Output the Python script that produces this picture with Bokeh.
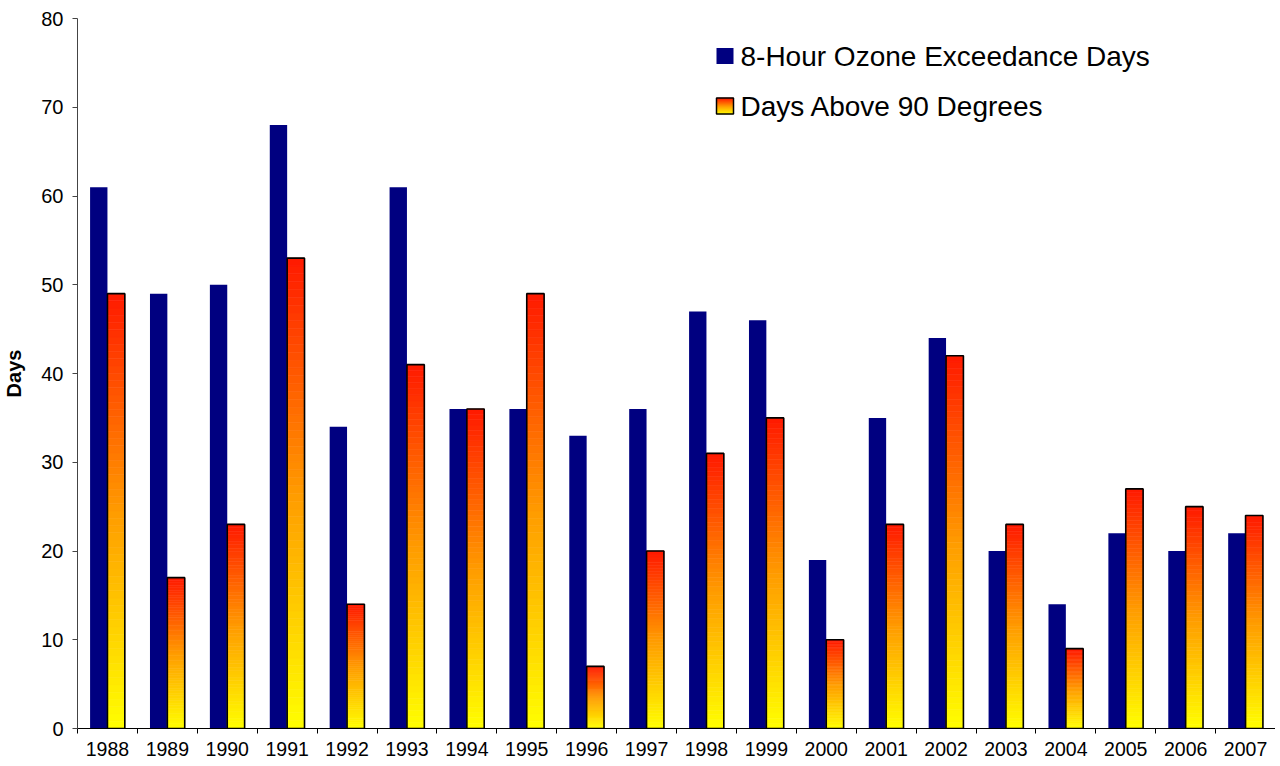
from bokeh.plotting import figure
from bokeh.models import (Range1d, FixedTicker, CustomJSTickFormatter, ColumnDataSource)
from bokeh.core.properties import value
from bokeh.embed import file_html
from bokeh.resources import INLINE

years = ["1988", "1989", "1990", "1991", "1992", "1993", "1994", "1995", "1996", "1997",
         "1998", "1999", "2000", "2001", "2002", "2003", "2004", "2005", "2006", "2007"]
ozone_days = [61, 49, 50, 68, 34, 61, 36, 36, 33, 36, 47, 46, 19, 35, 44, 20, 14, 22, 20, 22]
hot_days = [49, 17, 23, 53, 14, 41, 36, 49, 7, 20, 31, 35, 10, 23, 42, 23, 9, 27, 25, 24]
y_ticks = [0, 10, 20, 30, 40, 50, 60, 70, 80]
series_names = ["8-Hour Ozone Exceedance Days", "Days Above 90 Degrees"]

FONT = "Liberation Sans"
NAVY = "#000080"
BAR_W = 0.29
N_SLICES = 60


def grad_color(t):
    # t: 0 bottom (yellow) -> 1 top (red)
    if t < 0.5:
        g = 255 - (255 - 155) * (t / 0.5)
    else:
        g = 155 - (155 - 25) * ((t - 0.5) / 0.5)
    return "#%02x%02x%02x" % (255, int(round(g)), 0)


FW, FH = 1198, 710
p = figure(frame_width=FW, frame_height=FH, min_border_left=71, min_border_right=0,
           min_border_top=18, min_border_bottom=36,
           x_range=Range1d(-0.5, len(years) - 0.5), y_range=Range1d(0, 80),
           output_backend="svg", toolbar_location=None, tools="")
p.outline_line_color = None
p.xgrid.visible = False
p.ygrid.visible = False
p.background_fill_color = "white"
p.border_fill_color = "white"

xs = list(range(len(years)))

# Navy bars
p.quad(left=[x - BAR_W for x in xs], right=xs, bottom=0, top=ozone_days,
       fill_color=NAVY, line_color=None)

# Gradient bars built from slices
L, R, B, T, C = [], [], [], [], []
for x, v in zip(xs, hot_days):
    for i in range(N_SLICES):
        L.append(x)
        R.append(x + BAR_W)
        B.append(v * i / N_SLICES)
        T.append(v * (i + 1) / N_SLICES)
        C.append(grad_color((i + 0.5) / N_SLICES))
src = ColumnDataSource(dict(left=L, right=R, bottom=B, top=T, color=C))
p.quad(left="left", right="right", bottom="bottom", top="top", source=src,
       fill_color="color", line_color="color", line_width=0.6)
p.quad(left=xs, right=[x + BAR_W for x in xs], bottom=0, top=hot_days,
       fill_color=None, line_color="black", line_width=1.6)

# Axes
xa = p.xaxis[0]
xa.ticker = FixedTicker(ticks=xs, minor_ticks=[x - 0.5 for x in xs] + [len(xs) - 0.5])
xa.formatter = CustomJSTickFormatter(args=dict(years=years),
                                     code="const i = Math.round(tick); return years[i] || '';")
xa.major_tick_out = 0
xa.major_tick_in = 0
xa.minor_tick_out = 5
xa.minor_tick_in = 0
xa.minor_tick_line_color = "black"
xa.axis_line_color = "black"
xa.major_label_text_font = FONT
xa.major_label_text_font_size = "19.5px"
xa.major_label_text_color = "black"
xa.major_label_standoff = 8

ya = p.yaxis[0]
ya.ticker = FixedTicker(ticks=y_ticks)
ya.minor_tick_line_color = None
ya.major_tick_out = 5
ya.major_tick_in = 0
ya.major_tick_line_color = "#444444"
ya.axis_line_color = "#444444"
ya.major_label_text_font = FONT
ya.major_label_text_font_size = "20px"
ya.major_label_text_color = "black"
ya.major_label_standoff = 9
ya.axis_label = "Days"
ya.axis_label_text_font = FONT
ya.axis_label_text_font_style = "bold"
ya.axis_label_text_font_size = "20px"
ya.axis_label_text_color = "black"
ya.axis_label_standoff = 13

# Legend drawn in pixel coordinates of the frame
p.extra_x_ranges = {"px": Range1d(0, FW)}
p.extra_y_ranges = {"py": Range1d(FH, 0)}
lx0, lx1 = 639, 656
p.quad(left=[lx0], right=[lx1], top=[29.5], bottom=[45.5], fill_color=NAVY, line_color=None,
       x_range_name="px", y_range_name="py")
gl, gr, gb, gt, gc = [], [], [], [], []
top2, bot2 = 79.5, 95.5
n = 16
for i in range(n):
    gl.append(lx0); gr.append(lx1)
    gb.append(bot2 - (bot2 - top2) * i / n)
    gt.append(bot2 - (bot2 - top2) * (i + 1) / n)
    gc.append(grad_color((i + 0.5) / n))
p.quad(left=gl, right=gr, bottom=gb, top=gt, fill_color=gc, line_color=gc, line_width=0.5,
       x_range_name="px", y_range_name="py")
p.quad(left=[lx0], right=[lx1], top=[top2], bottom=[bot2], fill_color=None, line_color="black",
       line_width=1.5, x_range_name="px", y_range_name="py")
p.text(x=[663, 663], y=[38, 88], text=series_names, text_font=value(FONT),
       text_font_size="28px", text_baseline="middle", text_align="left", text_color="black",
       x_range_name="px", y_range_name="py")

open("out.html", "w").write(file_html(p, INLINE))
